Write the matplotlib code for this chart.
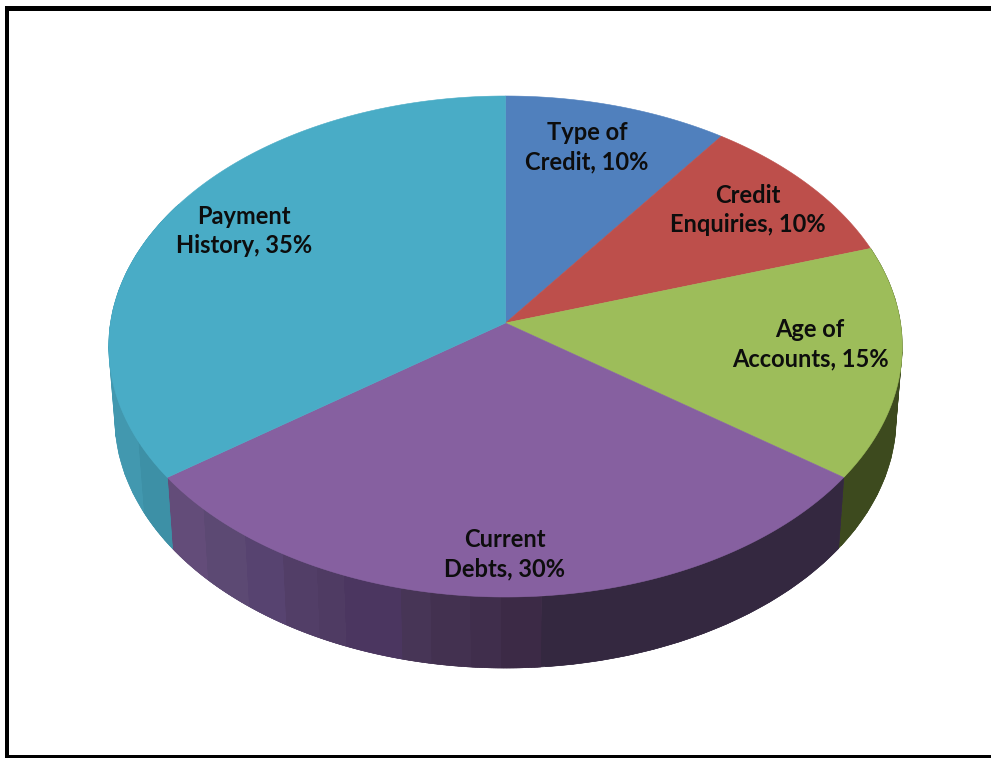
import numpy as np
import matplotlib
matplotlib.use("Agg")
import matplotlib.pyplot as plt
from matplotlib.patches import Rectangle

categories = ["Type of\nCredit", "Credit\nEnquiries", "Age of\nAccounts", "Current\nDebts", "Payment\nHistory"]
shares = [10, 10, 15, 30, 35]

top_colors = ["#5080bd", "#bd4f4b", "#9dbd5a", "#8660a0", "#49acc6"]
label_centers = [(587, 147), (748, 210), (810, 344), (505, 554), (244, 231)]

# shaded bands on the rim, clockwise angle where each band ends and its colour
rim_ends = {
    2: [126],
    3: [175.3, 180.7, 184.7, 190, 194, 202, 206, 211.3, 217.7, 225.7, 234],
    4: [243, 300],
}
rim_colors = {
    2: ["#3d4a1e"],
    3: ["#342840", "#3c2a46", "#402e4c", "#433150", "#473556", "#4b3660",
        "#4f3b63", "#523e67", "#574370", "#5c4973", "#634c79"],
    4: ["#3d90a6", "#4298af"],
}

CX, CY = 505.5, 323
AX_TOP, AX_BOTTOM = 395, 389
BY = 248.3
K = 0.0938
RIM_DROP = 71


def project(theta, r=1.0, bottom=False):
    # theta runs clockwise from 12 o'clock, the far side of the pie shrinks
    t = np.radians(theta)
    u, v = r * np.sin(t), r * np.cos(t)
    a = AX_BOTTOM if bottom else AX_TOP
    w = 1 + K * v
    y = CY - BY * v / w
    return CX + a * u / w, y + RIM_DROP if bottom else y


def draw_rim(ax, start, end, color):
    th = np.linspace(start, end, 80)
    xt, yt = project(th)
    xb, yb = project(th, bottom=True)
    ax.fill(np.r_[xt, xb[::-1]], np.r_[yt, yb[::-1]], facecolor=color,
            edgecolor=color, linewidth=0.4, zorder=2)
    # coarse quads on top so the sides of the disc run straight from ring to ring
    coarse = th[::6]
    for a, b in zip(coarse[:-1], coarse[1:]):
        xa, ya = project(a)
        xc, yc = project(b)
        xd, yd = project(b, bottom=True)
        xe, ye = project(a, bottom=True)
        ax.fill([xa, xc, xd, xe], [ya, yc, yd, ye], facecolor=color,
                edgecolor=color, linewidth=0.4, zorder=2)


fig = plt.figure(figsize=(9.91, 7.58), dpi=100)
ax = fig.add_axes([0, 0, 1, 1])
ax.set_xlim(0, 991)
ax.set_ylim(758, 0)
ax.axis("off")

edges = np.r_[0, np.cumsum(shares)] * 3.6

# rim first, the top face goes over it
for i, ends in rim_ends.items():
    start = edges[i]
    for end, color in zip(ends, rim_colors[i]):
        draw_rim(ax, start, end, color)
        start = end

for i, share in enumerate(shares):
    th = np.linspace(edges[i], edges[i + 1], 120)
    x, y = project(th)
    ax.fill(np.r_[CX, x], np.r_[CY, y], facecolor=top_colors[i],
            edgecolor=top_colors[i], linewidth=0.4, zorder=3)

for cat, share, (lx, ly) in zip(categories, shares, label_centers):
    ax.text(lx, ly, f"{cat}, {share}%", ha="center", va="center", family="Lato",
            fontweight="bold", fontsize=17, color="#0d0d0d", linespacing=1.36, zorder=4)

# frame has no right hand side
ax.add_patch(Rectangle((5, 6), 986, 5, facecolor="black", edgecolor="none", zorder=5))
ax.add_patch(Rectangle((5, 6), 4, 752, facecolor="black", edgecolor="none", zorder=5))
ax.add_patch(Rectangle((5, 755), 986, 3, facecolor="black", edgecolor="none", zorder=5))

fig.savefig("out.png", dpi=100, facecolor="white")
